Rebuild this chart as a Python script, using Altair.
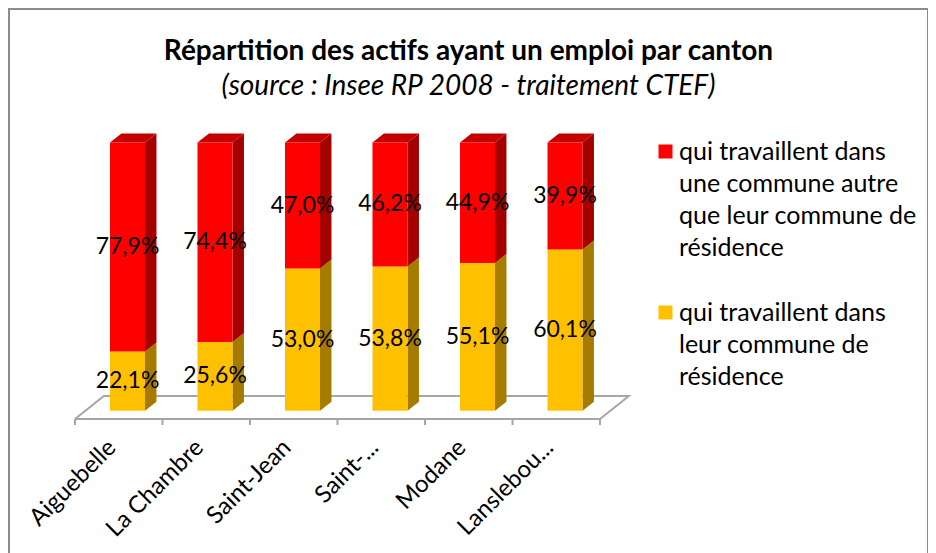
import altair as alt
import pandas as pd

# ---- data ----
cantons = ["Aiguebelle", "La Chambre", "Saint-Jean", "Saint-...", "Modane", "Lanslebou..."]
autre = [77.9, 74.4, 47.0, 46.2, 44.9, 39.9]   # travaillent dans une autre commune
meme = [22.1, 25.6, 53.0, 53.8, 55.1, 60.1]    # travaillent dans leur commune
lignes_autre = ["qui travaillent dans", "une commune autre", "que leur commune de", "résidence"]
lignes_meme = ["qui travaillent dans", "leur commune de", "résidence"]

nom_autre = " ".join(lignes_autre)
nom_meme = " ".join(lignes_meme)

# ---- 3D geometry (style constants) ----
BAR_L, BAR_R = 0.4, 0.8      # front face within each category slot
DX, DY = 0.131, 3.36         # depth of bars
FLOOR_FRONT, FLOOR_BACK, FLOOR_DX = -3.1, 5.5, 0.33
TICK_LEN = 2.24
LABEL_Y = -14.3

front_rows = []
for i, c in enumerate(cantons):
    base = 0.0
    for name, vals, key in [(nom_meme, meme, "meme"), (nom_autre, autre, "autre")]:
        v = vals[i]
        front_rows.append(dict(canton=c, serie=name, key=key,
                               x0=i + BAR_L, x1=i + BAR_R, xm=i + (BAR_L + BAR_R) / 2,
                               y0=base, y1=base + v, ym=base + v / 2,
                               label=f"{v:.1f}".replace(".", ",") + "%"))
        base += v
front = pd.DataFrame(front_rows)

poly_rows = []
for r in front_rows:
    pid = f"{r['canton']}-{r['key']}-side"
    poly_rows.append(dict(pid=pid, face="side-" + r["key"], x=r["x1"], lo=r["y0"], hi=r["y1"]))
    poly_rows.append(dict(pid=pid, face="side-" + r["key"], x=r["x1"] + DX, lo=r["y0"] + DY, hi=r["y1"] + DY))
    if r["key"] == "autre":
        t = r["y1"]
        pid = f"{r['canton']}-top"
        poly_rows.append(dict(pid=pid, face="top-autre", x=r["x0"], lo=t, hi=t))
        poly_rows.append(dict(pid=pid, face="top-autre", x=r["x0"] + DX, lo=t, hi=t + DY))
        poly_rows.append(dict(pid=pid, face="top-autre", x=r["x1"], lo=t, hi=t + DY))
        poly_rows.append(dict(pid=pid, face="top-autre", x=r["x1"] + DX, lo=t + DY, hi=t + DY))
polys = pd.DataFrame(poly_rows)

n = len(cantons)
floor = pd.DataFrame(dict(
    x=[0, n, n + FLOOR_DX, FLOOR_DX, 0],
    y=[FLOOR_FRONT, FLOOR_FRONT, FLOOR_BACK, FLOOR_BACK, FLOOR_FRONT],
    o=[0, 1, 2, 3, 4]))
ticks = pd.DataFrame(dict(x=list(range(n + 1)), y=FLOOR_FRONT, y2=FLOOR_FRONT - TICK_LEN))
cat_labels = pd.DataFrame(dict(canton=cantons, x=[i + 0.5 for i in range(n)], y=LABEL_Y))

W, H = 919, 560
xs = alt.Scale(domain=[-66 / 87.5, (W - 66) / 87.5], nice=False, zero=False)
ys = alt.Scale(domain=[(401.7 - H) / 2.682, 401.7 / 2.682], nice=False, zero=False)

FONT = "Lato"
GRAY = "#A6A6A6"

floor_layer = alt.Chart(floor).mark_line(color=GRAY, strokeWidth=2).encode(
    x=alt.X("x:Q", scale=xs, axis=None),
    y=alt.Y("y:Q", scale=ys, axis=None),
    order="o:Q")

tick_layer = alt.Chart(ticks).mark_rule(color=GRAY, strokeWidth=2).encode(
    x=alt.X("x:Q", scale=xs, axis=None),
    y=alt.Y("y:Q", scale=ys, axis=None),
    y2="y2:Q")

cat_layer = alt.Chart(cat_labels).mark_text(
    font=FONT, fontSize=24, color="black", angle=315, align="right", baseline="middle",
    dx=-1, dy=-8
).encode(
    x=alt.X("x:Q", scale=xs, axis=None),
    y=alt.Y("y:Q", scale=ys, axis=None),
    text="canton:N")

faces = alt.Chart(polys).mark_area(strokeWidth=0).encode(
    x=alt.X("x:Q", scale=xs, axis=None),
    y=alt.Y("lo:Q", scale=ys, axis=None),
    y2="hi:Q",
    detail="pid:N",
    fill=alt.Fill("face:N", legend=None, scale=alt.Scale(
        domain=["side-meme", "side-autre", "top-autre"],
        range=["#A67C00", "#A50000", "#C40000"])))

label_expr = ("datum.label == '" + nom_autre + "' ? [" + ",".join("'" + s + "'" for s in lignes_autre)
              + "] : [" + ",".join("'" + s + "'" for s in lignes_meme) + "]")

bars = alt.Chart(front).mark_rect().encode(
    x=alt.X("x0:Q", scale=xs, axis=None),
    x2="x1:Q",
    y=alt.Y("y0:Q", scale=ys, axis=None),
    y2="y1:Q",
    color=alt.Color("serie:N", scale=alt.Scale(domain=[nom_autre, nom_meme], range=["#FF0000", "#FFC000"]),
                    legend=alt.Legend(orient="none", legendX=644, legendY=130, title=None,
                                      symbolType="square", symbolSize=196, symbolStrokeWidth=0,
                                      labelFont=FONT, labelFontSize=25, labelColor="black",
                                      labelExpr=label_expr, labelLimit=400, labelOffset=1,
                                      rowPadding=39, padding=0)))

texts = alt.Chart(front).mark_text(font=FONT, fontSize=23, color="black").encode(
    x=alt.X("xm:Q", scale=xs, axis=None),
    y=alt.Y("ym:Q", scale=ys, axis=None),
    text="label:N")

chart = alt.layer(floor_layer, tick_layer, faces, bars, texts, cat_layer).properties(
    width=W, height=H,
    padding={"left": 1, "top": 1, "right": 0, "bottom": 0},
    autosize=alt.AutoSizeParams(type="none"),
    title=alt.TitleParams(
        text="Répartition des actifs ayant un emploi par canton",
        subtitle="(source : Insee RP 2008 - traitement CTEF)",
        font=FONT, fontSize=28, fontWeight="bold", color="black",
        subtitleFont=FONT, subtitleFontSize=28, subtitleFontStyle="italic", subtitleColor="black",
        anchor="middle", offset=-92, subtitlePadding=7),
).configure(
    background="white",
    view={"stroke": "#8C8C8C", "strokeWidth": 2},
    style={"guide-label": {"lineHeight": 32}},
)

chart.save("out.html", embed_options={"renderer": "svg", "actions": False})
